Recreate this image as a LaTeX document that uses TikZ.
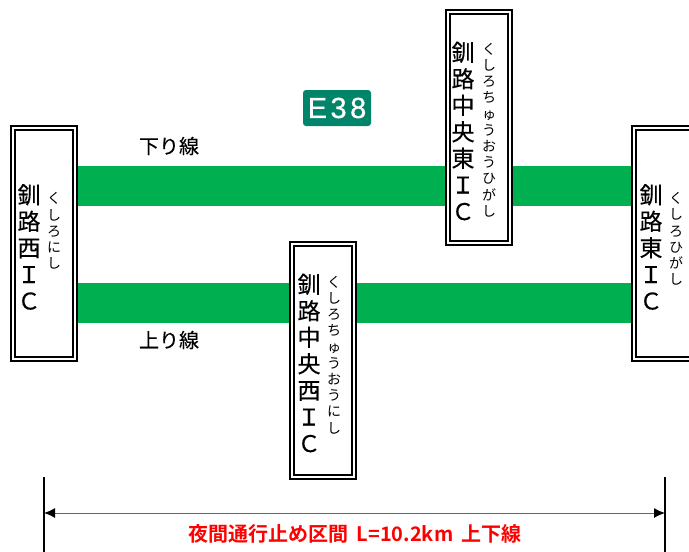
\documentclass[tikz,border=0pt]{standalone}
\usepackage{fontspec}
\setmainfont{Liberation Sans}
\newfontfamily\cjk[FakeBold=0.25]{Noto Sans CJK JP}
\newfontfamily\cjkk{Noto Sans CJK JP}
\newfontfamily\cjkb{Noto Sans CJK JP Bold}
\newfontfamily\signfont[LetterSpace=12,FakeBold=0.6]{Liberation Sans}
\usetikzlibrary{arrows.meta}
\definecolor{roadgreen}{HTML}{00B050}
\definecolor{signgreen}{HTML}{00846A}
\tikzset{
  icbox/.style={draw=black,fill=white,double=white,double distance=2,line width=2,minimum width=#1,inner sep=0},
  bigcol/.style={font=\cjk\fontsize{23}{26.5}\selectfont,align=center,inner sep=0},
  kanacol/.style={font=\cjkk\fontsize{14}{16.2}\selectfont,align=center,inner sep=0},
  road/.style={fill=roadgreen,draw=none},
  linelabel/.style={font=\cjk\fontsize{20}{22}\selectfont,inner sep=0},
  tick/.style={draw=black,line width=1.5},
  dimline/.style={draw=black!60,line width=1,{Latex[length=11,width=10,black]}-{Latex[length=11,width=10,black]}}
}
\begin{document}
\begin{tikzpicture}[x=1pt,y=-1pt]
\useasboundingbox (0,0) rectangle (689,552);
% roads
\fill[road] (75,166) rectangle (633,206);
\fill[road] (75,283) rectangle (633,323);
% boxes
\node[icbox=62,minimum height=231] (west) at (44,243.5) {};
\node[icbox=62,minimum height=231] (cee) at (478.5,127.5) {};
\node[icbox=62,minimum height=233] (cew) at (323,360.5) {};
\node[icbox=62,minimum height=231] (east) at (665,243.5) {};
% text
\node[bigcol] (westk) at (29,247) {釧\\路\\西\\Ｉ\\Ｃ};
\node[kanacol] (westr) at (54,231) {く\\し\\ろ\\に\\し};
\node[bigcol] (ceek) at (463,131) {釧\\路\\中\\央\\東\\Ｉ\\Ｃ};
\node[kanacol] (ceer) at (489,130) {く\\し\\ろ\\ち\\ゅ\\う\\お\\う\\ひ\\が\\し};
\node[bigcol] (cewk) at (309,363) {釧\\路\\中\\央\\西\\Ｉ\\Ｃ};
\node[kanacol] (cewr) at (334,355) {く\\し\\ろ\\ち\\ゅ\\う\\お\\う\\に\\し};
\node[bigcol] (eastk) at (651,247) {釧\\路\\東\\Ｉ\\Ｃ};
\node[kanacol] (eastr) at (676,239) {く\\し\\ろ\\ひ\\が\\し};
\node[linelabel] (down) at (169,146) {下り線};
\node[linelabel] (up) at (169,340) {上り線};
% route sign
\node[fill=signgreen,rounded corners=3,minimum width=68,minimum height=36,inner sep=0,text=white,font=\signfont\fontsize{29}{29}\selectfont] (sign) at (337,108) {E38};
% dimension
\coordinate (lt) at (44,477); \coordinate (lb) at (44,552);
\coordinate (rt) at (665,477); \coordinate (rb) at (665,552);
\coordinate (la) at (44,513); \coordinate (ra) at (665,513);
\draw[tick] (lt) -- (lb);
\draw[tick] (rt) -- (rb);
\draw[dimline] (la) -- (ra);
\node[text=red,inner sep=0,font=\cjkb\fontsize{20}{22}\selectfont] (dimtext) at (355,534) {夜間通行止め区間\hspace{8pt}L=10.2km\hspace{8pt}上下線};
\end{tikzpicture}
\end{document}
